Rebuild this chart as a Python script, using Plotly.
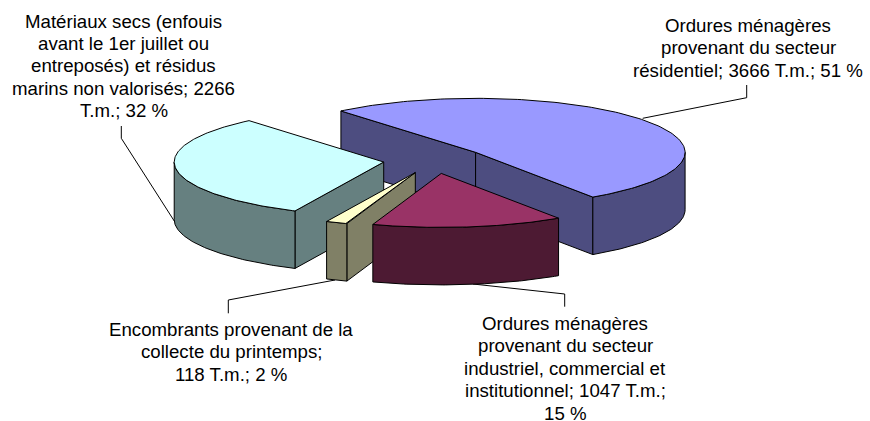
import numpy as np
import plotly.graph_objects as go

# Data
categories = [
    "Ordures ménagères provenant du secteur résidentiel",
    "Ordures ménagères provenant du secteur industriel, commercial et institutionnel",
    "Encombrants provenant de la collecte du printemps",
    "Matériaux secs (enfouis avant le 1er juillet ou entreposés) et résidus marins non valorisés",
]
tonnes = [3666, 1047, 118, 2266]
top_colors = ["#9999FF", "#993366", "#FFFFCC", "#CCFFFF"]
side_colors = ["#4D4D80", "#4D1A33", "#808066", "#668080"]
label_lines = [
    ["Ordures ménagères", "provenant du secteur", "résidentiel; 3666 T.m.; 51 %"],
    ["Ordures ménagères", "provenant du secteur", "industriel, commercial et", "institutionnel; 1047 T.m.;", "15 %"],
    ["Encombrants provenant de la", "collecte du printemps;", "118 T.m.; 2 %"],
    ["Matériaux secs (enfouis", "avant le 1er juillet ou", "entreposés) et résidus", "marins non valorisés; 2266", "T.m.; 32 %"],
]

# Layout of the projected pie
CX, CY, RX, RY, DEPTH, EXPLODE, START = 434.6, 160.3, 209.5, 54.0, 57.5, 0.245, -40.0
label_x = [748, 565, 231, 123.7]
label_base = [31.5, 329.5, 335.5, 27]
label_step = 22.4
leaders = [
    [(746.7, 85), (746.7, 97.7), (642.7, 118.3)],
    [(564.7, 306.7), (564.7, 294), (473, 284)],
    [(228.3, 313.3), (228.3, 300), (335, 280)],
    [(121.3, 126), (121.3, 138.3), (174.7, 221.7)],
]
FONT = "Liberation Sans, Arial, sans-serif"


def rim(phi_deg, c):
    p = np.radians(phi_deg)
    return c[0] + RX * np.sin(p), c[1] - RY * np.cos(p)


fig = go.Figure()


def poly(xs, ys, color):
    fig.add_trace(go.Scatter(
        x=list(xs) + [xs[0]], y=list(ys) + [ys[0]], mode="lines", fill="toself",
        fillcolor=color, line=dict(color="#000000", width=1),
        hoverinfo="skip", showlegend=False))


for path in leaders:
    fig.add_trace(go.Scatter(
        x=[p[0] for p in path], y=[p[1] for p in path], mode="lines",
        line=dict(color="#000000", width=1), hoverinfo="skip", showlegend=False))

total = sum(tonnes)
spans = []
a = START
for v in tonnes:
    spans.append((a, a + 360.0 * v / total))
    a = spans[-1][1]


def draw(i):
    a0, a1 = spans[i]
    mid = np.radians((a0 + a1) / 2)
    c = (CX + EXPLODE * RX * np.sin(mid), CY - EXPLODE * RY * np.cos(mid))
    # cut faces
    for ang, normal in ((a0, a0 - 90), (a1, a1 + 90)):
        if np.cos(np.radians(normal)) < 0:
            x, y = rim(ang, c)
            poly([c[0], x, x, c[0]], [c[1], y, y + DEPTH, c[1] + DEPTH], side_colors[i])
    # outer wall
    lo, hi = max(a0, 90), min(a1, 270)
    if hi > lo:
        t = np.linspace(lo, hi, 80)
        x, y = rim(t, c)
        poly(np.r_[x, x[::-1]], np.r_[y, y[::-1] + DEPTH], side_colors[i])
    # top
    t = np.linspace(a0, a1, 160)
    x, y = rim(t, c)
    poly(np.r_[c[0], x], np.r_[c[1], y], top_colors[i])


for i in (0, 3, 2, 1):
    draw(i)

annotations = []
for lines, lx, base in zip(label_lines, label_x, label_base):
    for k, line in enumerate(lines):
        annotations.append(dict(
            x=lx, y=base + k * label_step - 6, text=line, showarrow=False,
            xanchor="center", yanchor="middle", xref="x", yref="y",
            font=dict(family=FONT, size=18.67, color="#000000")))

fig.update_layout(
    width=870, height=421, margin=dict(l=0, r=0, t=0, b=0),
    paper_bgcolor="#FFFFFF", plot_bgcolor="#FFFFFF",
    xaxis=dict(range=[0, 870], visible=False, fixedrange=True),
    yaxis=dict(range=[421, 0], visible=False, fixedrange=True),
    annotations=annotations, showlegend=False)
fig.write_html("out.html", config={"displayModeBar": False},
               post_script="document.body.style.margin='0';document.body.style.overflow='hidden';")
